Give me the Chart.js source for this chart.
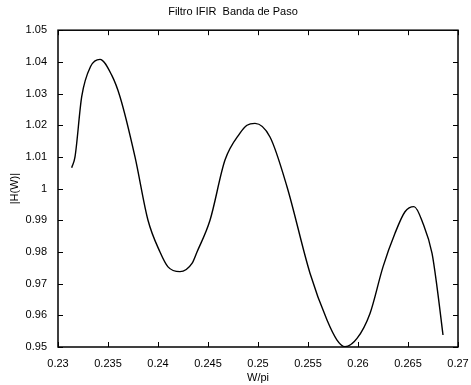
<!DOCTYPE html>
<html>
<head>
<meta charset="utf-8">
<script src="https://cdn.jsdelivr.net/npm/chart.js@4"></script>
<style>
    html, body { margin: 0; padding: 0; background: #fff; }
    #wrap { width: 471px; height: 385px; }
</style>
</head>
<body>
<div id="wrap"><canvas id="chart" width="471" height="385"></canvas></div>
<script>
// values
const freq = [0.23137, 0.2317, 0.23237, 0.23327, 0.2342, 0.23537, 0.2362, 0.2377, 0.2390,
    0.2402, 0.2410, 0.2422, 0.2434, 0.2439, 0.2452, 0.2467, 0.2482, 0.2489, 0.2497,
    0.2512, 0.2529, 0.2552, 0.2569, 0.2579, 0.2587, 0.2599, 0.2612, 0.2625, 0.2637,
    0.2647, 0.2656, 0.2665, 0.2674, 0.2679, 0.2685];
const magnitude = [1.0066, 1.010, 1.029, 1.0386, 1.0408, 1.0358, 1.029, 1.010, 0.990,
    0.980, 0.9753, 0.9738, 0.9764, 0.980, 0.990, 1.009, 1.0175, 1.020, 1.0206,
    1.0163, 1.0006, 0.9733, 0.9585, 0.9522, 0.9501, 0.9527, 0.9606, 0.9753, 0.9859,
    0.9927, 0.9943, 0.9890, 0.9796, 0.969, 0.9538];

const xMin = 0.23, xMax = 0.27, xStep = 0.005;
const yMin = 0.95, yMax = 1.05, yStep = 0.01;

const font = { family: 'Arial, "Liberation Sans", sans-serif', size: 11, weight: 'normal' };

// matlab style box with ticks pointing inward
const boxPlugin = {
    id: 'box',
    afterDraw(chart) {
        const ctx = chart.ctx;
        const a = chart.chartArea;
        const xs = chart.scales.x, ys = chart.scales.y;
        ctx.save();
        ctx.strokeStyle = '#000';
        ctx.lineWidth = 1.5;
        ctx.strokeRect(a.left, a.top, a.right - a.left, a.bottom - a.top);
        ctx.lineWidth = 1;
        ctx.beginPath();
        xs.ticks.forEach(t => {
            const px = Math.round(xs.getPixelForValue(t.value)) + 0.5;
            ctx.moveTo(px, a.bottom); ctx.lineTo(px, a.bottom - 5);
            ctx.moveTo(px, a.top); ctx.lineTo(px, a.top + 5);
        });
        ys.ticks.forEach(t => {
            const py = Math.round(ys.getPixelForValue(t.value)) + 0.5;
            ctx.moveTo(a.left, py); ctx.lineTo(a.left + 5, py);
            ctx.moveTo(a.right, py); ctx.lineTo(a.right - 5, py);
        });
        ctx.stroke();
        ctx.restore();
    }
};

new Chart(document.getElementById('chart'), {
    type: 'line',
    data: {
        datasets: [{
            data: freq.map((f, i) => ({ x: f, y: magnitude[i] })),
            borderColor: '#000',
            borderWidth: 1.4,
            pointRadius: 0,
            cubicInterpolationMode: 'monotone',
            fill: false
        }]
    },
    options: {
        responsive: false,
        animation: false,
        layout: { padding: { left: 8, right: 13, top: 0, bottom: 0 } },
        plugins: {
            legend: { display: false },
            tooltip: { enabled: false },
            title: {
                display: true,
                text: 'Filtro IFIR  Banda de Paso',
                color: '#000',
                font: font,
                padding: { top: 5, bottom: 12 }
            }
        },
        scales: {
            x: {
                type: 'linear',
                min: xMin, max: xMax,
                grid: { display: false },
                border: { display: false },
                ticks: {
                    stepSize: xStep, color: '#000', font: font, padding: 2, maxRotation: 0,
                    callback: v => String(parseFloat(v.toFixed(3)))
                },
                title: { display: true, text: 'W/pi', color: '#000', font: font, padding: 0 },
                afterFit(scale) { scale.height = 38; }
            },
            y: {
                min: yMin, max: yMax,
                grid: { display: false },
                border: { display: false },
                ticks: {
                    stepSize: yStep, color: '#000', font: font, padding: 3,
                    callback: v => String(parseFloat(v.toFixed(2)))
                },
                title: { display: true, text: '|H(W)|', color: '#000', font: font, padding: 0 },
                afterFit(scale) { scale.width = 50; }
            }
        }
    },
    plugins: [boxPlugin]
});
</script>
</body>
</html>
